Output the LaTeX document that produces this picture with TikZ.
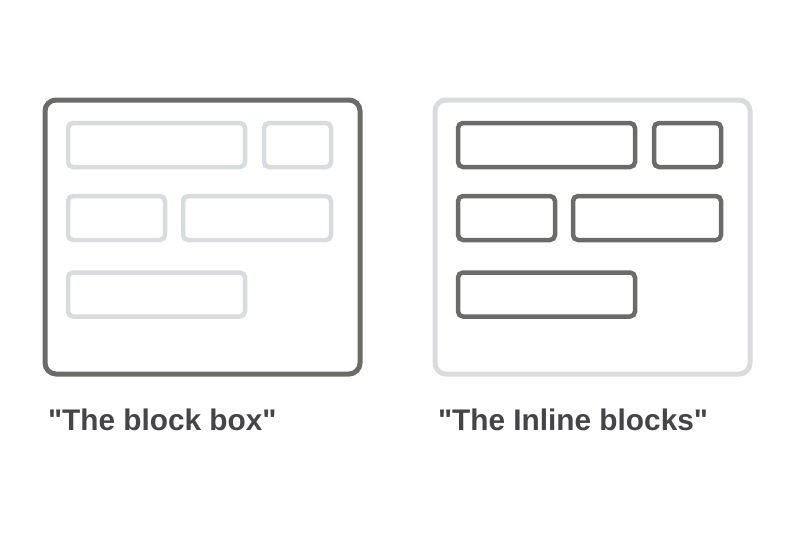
\documentclass[tikz,border=0pt]{standalone}
\usepackage{fontspec}
\setmainfont{Liberation Sans}
\usetikzlibrary{positioning}
\definecolor{darkline}{HTML}{6B6B67}
\definecolor{lightline}{HTML}{D9DCDF}
\definecolor{labeltext}{HTML}{444449}
\tikzset{
every node/.style={inner sep=0pt, outer sep=0pt}, % boxes are sized by hand
frame/.style={draw, rectangle, rounded corners=11pt, line width=5pt},
piece/.style={draw, rectangle, rounded corners=5pt, line width=4.5pt, minimum height=44pt},
caption/.style={anchor=base west, text=labeltext, font=\fontsize{29.8}{34}\selectfont\bfseries},
}

\begin{document}
\begin{tikzpicture}[x=1pt, y=-1pt]
        \useasboundingbox (0,0) rectangle (800,533);

        % The block box
        \node[frame, darkline, minimum width=315pt, minimum height=274pt] (BlockFrame) at (202.5,237) {};
        \node[piece, lightline, minimum width=177pt] (B1) at (156.5,145) {};
        \node[piece, lightline, minimum width=67pt] (B2) at (297.5,145) {};
        \node[piece, lightline, minimum width=97pt] (B3) at (116.5,218) {};
        \node[piece, lightline, minimum width=148pt] (B4) at (257,218) {};
        \node[piece, lightline, minimum width=177pt] (B5) at (156.5,294.5) {};
        \node[caption] (BlockLabel) at (48,430) {\textquotedbl The block box\textquotedbl};

        % The inline blocks
        \node[frame, lightline, minimum width=315pt, minimum height=274pt] (InlineFrame) at (592.5,237) {};
        \node[piece, darkline, minimum width=177pt] (I1) at (546.5,145) {};
        \node[piece, darkline, minimum width=67pt] (I2) at (687.5,145) {};
        \node[piece, darkline, minimum width=97pt] (I3) at (506.5,218) {};
        \node[piece, darkline, minimum width=148pt] (I4) at (647,218) {};
        \node[piece, darkline, minimum width=177pt] (I5) at (546.5,294.5) {};
        \node[caption] (InlineLabel) at (438,430) {\textquotedbl The Inline blocks\textquotedbl};
    \end{tikzpicture}
\end{document}
